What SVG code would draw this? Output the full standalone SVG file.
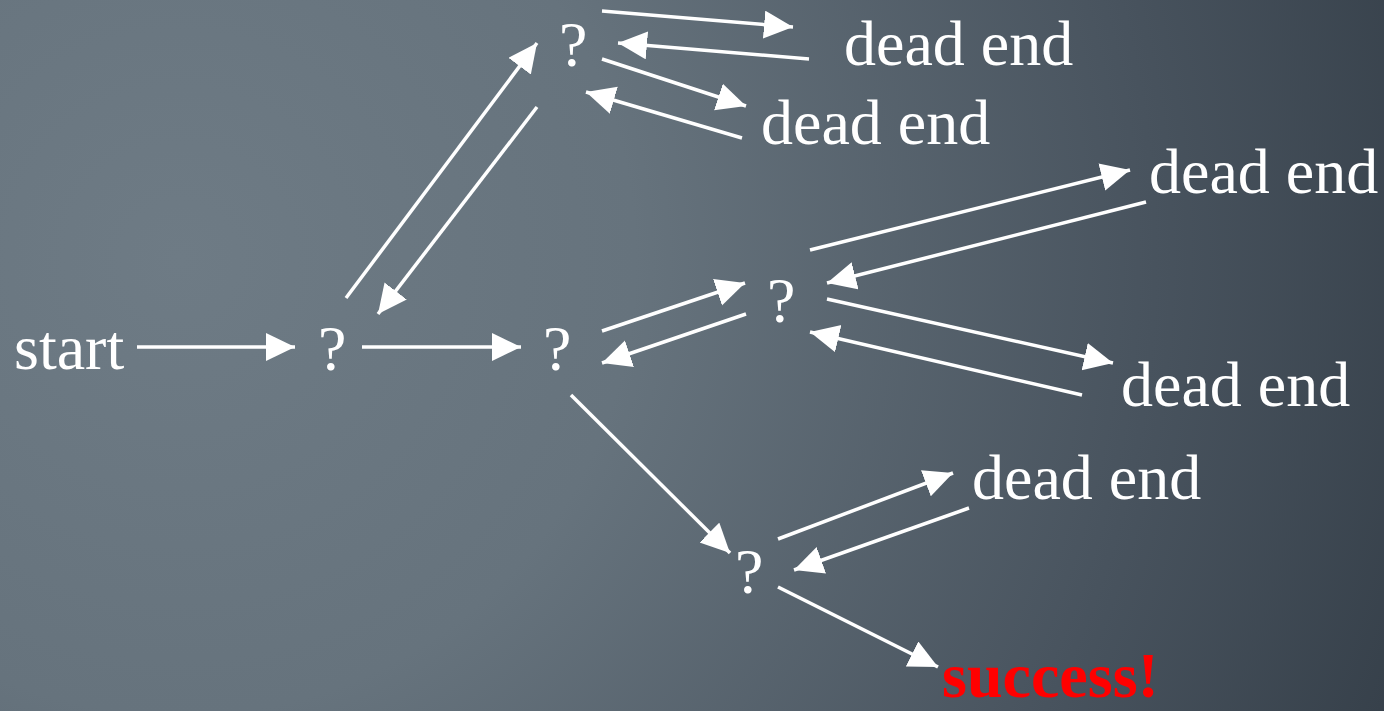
<svg xmlns="http://www.w3.org/2000/svg" width="1384" height="711" viewBox="0 0 1384 711">
<defs>
<radialGradient id="bg" gradientUnits="userSpaceOnUse" cx="180" cy="260" r="1300">
<stop offset="0" stop-color="#6e7b85"/>
<stop offset="0.35" stop-color="#66737d"/>
<stop offset="0.75" stop-color="#48535e"/>
<stop offset="1" stop-color="#36404a"/>
</radialGradient>
<marker id="ah" markerUnits="userSpaceOnUse" markerWidth="32" markerHeight="32" refX="29" refY="14" orient="auto">
<path d="M0,0 L29,14 L0,28 Z" fill="#ffffff"/>
</marker>
</defs>
<style>
.t{font-family:"Liberation Serif","Times New Roman",serif;font-size:64px;fill:#ffffff}
.s{font-family:"Liberation Serif","Times New Roman",serif;font-size:64px;font-weight:bold;fill:#ff0000}
.c line{stroke:#ffffff;stroke-width:3.5;marker-end:url(#ah)}
</style>
<rect width="1384" height="711" fill="url(#bg)"/>
<g id="start"><text class="t" x="14" y="369">start</text></g>
<g id="q1"><text class="t" x="318" y="370">?</text></g>
<g id="q2"><text class="t" x="543" y="370">?</text></g>
<g id="qtop"><text class="t" x="559" y="66">?</text></g>
<g id="qmid"><text class="t" x="767" y="322">?</text></g>
<g id="qbot"><text class="t" x="735" y="593">?</text></g>
<g id="dead1"><text class="t" x="844" y="65">dead end</text></g>
<g id="dead2"><text class="t" x="761" y="144">dead end</text></g>
<g id="dead3"><text class="t" x="1149" y="193">dead end</text></g>
<g id="dead4"><text class="t" x="1121" y="406">dead end</text></g>
<g id="dead5"><text class="t" x="972" y="499">dead end</text></g>
<g id="success"><text class="s" x="942" y="697">success!</text></g>
<g id="connectors" class="c">
<line x1="137" y1="347" x2="295" y2="347"/>
<line x1="362" y1="347" x2="521" y2="347"/>
<line x1="346" y1="298" x2="537" y2="43"/>
<line x1="537" y1="107" x2="378" y2="314"/>
<line x1="602" y1="11" x2="793" y2="27"/>
<line x1="809" y1="59" x2="618" y2="43"/>
<line x1="602" y1="59" x2="746" y2="106"/>
<line x1="742" y1="138" x2="586" y2="92"/>
<line x1="602" y1="331" x2="745" y2="283"/>
<line x1="746" y1="314" x2="602" y2="363"/>
<line x1="810" y1="250" x2="1130" y2="170"/>
<line x1="1146" y1="202" x2="827" y2="283"/>
<line x1="827" y1="299" x2="1113" y2="363"/>
<line x1="1082" y1="395" x2="810" y2="332"/>
<line x1="571" y1="395" x2="730" y2="553"/>
<line x1="778" y1="539" x2="953" y2="473"/>
<line x1="969" y1="508" x2="794" y2="570"/>
<line x1="778" y1="587" x2="938" y2="667"/>
</g>
</svg>
